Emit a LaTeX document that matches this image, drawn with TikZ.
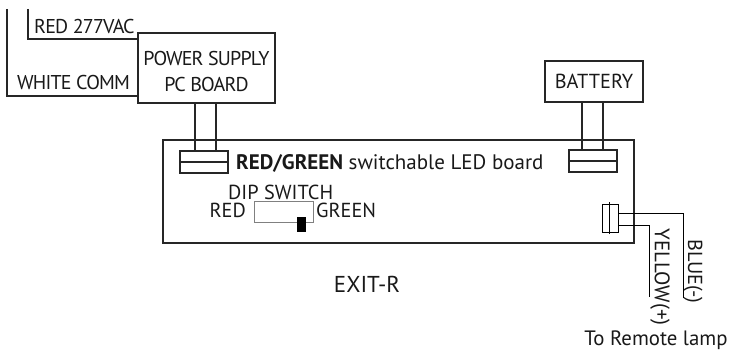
\documentclass[tikz,border=0pt]{standalone}
\usepackage{fontspec}
\setmainfont{PT Sans}
\newfontfamily\tightfont[LetterSpace=-4]{PT Sans}
\usetikzlibrary{shapes,arrows}
\tikzstyle{block} = [rectangle, draw=black!85, line width=2pt, inner sep=0pt, align=center]
\tikzstyle{label} = [inner sep=0pt, text=black!90, font=\fontsize{20.3}{26}\selectfont]
\tikzstyle{tight} = [label, font=\fontsize{20}{26}\selectfont\tightfont]
\tikzstyle{wire} = [draw=black!85, line width=2pt]
\tikzstyle{thin} = [draw=black, line width=1pt]

\begin{document}
\begin{tikzpicture}[x=1pt,y=1pt]
\useasboundingbox (0,0) rectangle (730,352);

\node [block, minimum width=471pt, minimum height=103pt] (board) at (398.5,160.5) {};

\node [block, minimum width=137pt, minimum height=70pt] (power) at (206.5,284) {};
\node [tight, align=center] (powerText) at (206.5,280) {POWER SUPPLY\\PC BOARD};
\node [block, label, minimum width=98pt, minimum height=41pt] (battery) at (594,270.5) {BATTERY};

\node [block, minimum width=48pt, minimum height=22pt] (plugL) at (204,190) {};
\node [block, minimum width=48pt, minimum height=22pt] (plugR) at (593,191) {};
\node [rectangle, draw=black, line width=1pt, minimum width=16pt, minimum height=28pt] (jack) at (610,133) {};

% dip switch
\node [rectangle, draw=black!50, line width=1pt, minimum width=59pt, minimum height=21pt] (dip) at (283.5,139.5) {};
\node [rectangle, fill=black, minimum width=9pt, minimum height=15pt, inner sep=0pt] (knob) at (301.5,127.5) {};

% coordinates where the loose wires end
\coordinate (redEnd) at (28,343);
\coordinate (whiteEnd) at (7,343);
\coordinate (blueEnd) at (683,54);
\coordinate (yellowEnd) at (649,55);

% labels
\node [tight, anchor=west] (redVac) at (34,325) {RED 277VAC};
\node [tight, anchor=west] (whiteComm) at (17,269) {WHITE COMM};
\node [label, anchor=west, font=\fontsize{21}{26}\selectfont] (title) at (236,189) {\textbf{RED/GREEN} switchable LED board};
\node [label, anchor=west] (dipText) at (228,160) {DIP SWITCH};
\node [label, anchor=east] (dipRed) at (246,142) {RED};
\node [label, anchor=west] (dipGreen) at (316,142) {GREEN};
\node [label, font=\fontsize{23}{28}\selectfont] (exit) at (367,68) {EXIT-R};
\node [label, rotate=-90] (blue) at (693,81) {BLUE(-)};
\node [label, rotate=-90, font=\fontsize{21}{26}\selectfont] (yellow) at (660,75) {YELLOW(+)};
\node [label, font=\fontsize{20.8}{26}\selectfont] (remote) at (656,12) {To Remote lamp};

% now the wires
\path [wire] (redEnd) |- ([yshift=-7pt]power.north west);
\path [wire] (whiteEnd) |- ([yshift=8pt]power.south west);

\path [wire] ([xshift=-9pt]plugL.north) -- ([xshift=-9pt]plugL.north |- power.south);
\path [wire] ([xshift=12pt]plugL.north) -- ([xshift=12pt]plugL.north |- power.south);
\path [wire] ([xshift=-11pt]plugR.north) -- ([xshift=-11pt]plugR.north |- battery.south);
\path [wire] ([xshift=10pt]plugR.north) -- ([xshift=10pt]plugR.north |- battery.south);
\path [wire] (plugL.west) -- (plugL.east);
\path [wire] (plugR.west) -- (plugR.east);

\path [thin] ([xshift=-1pt,yshift=2pt]jack.north) -- ([xshift=-1pt,yshift=-1pt]jack.south);
\path [thin] ([yshift=5pt]jack.east) -| (blueEnd);
\path [thin] ([yshift=-7pt]jack.east) -| (yellowEnd);

\end{tikzpicture}
\end{document}
